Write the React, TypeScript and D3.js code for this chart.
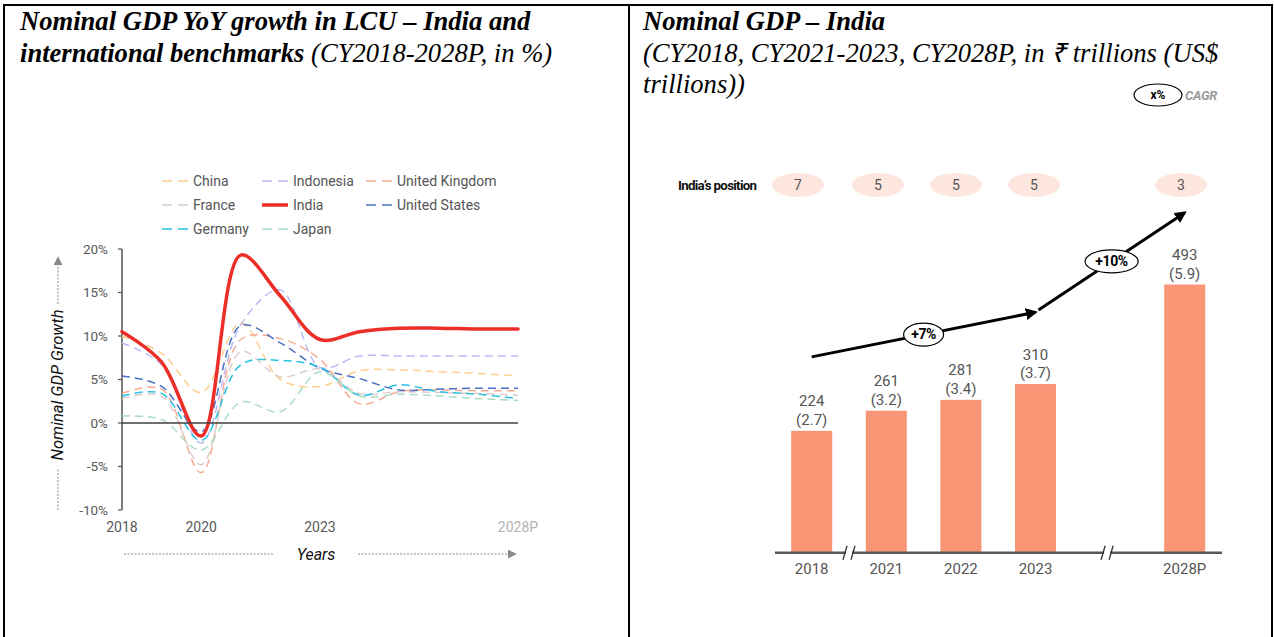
import React from "react";
import * as d3 from "d3";

// ---------- DATA ----------
const years = [2018, 2019, 2020, 2021, 2022, 2023, 2024, 2025, 2026, 2027, 2028];
const china = [10.0, 8.0, 3.5, 11.5, 5.0, 4.2, 6.0, 6.1, 5.9, 5.7, 5.4];
const indonesia = [9.2, 6.7, -2.3, 11.3, 15.3, 6.4, 7.7, 7.7, 7.7, 7.7, 7.7];
const unitedKingdom = [3.4, 3.9, -5.7, 9.6, 9.7, 7.3, 2.2, 3.6, 3.8, 3.7, 3.7];
const france = [2.8, 3.1, -4.8, 8.2, 5.3, 6.2, 3.4, 3.6, 3.5, 3.4, 3.2];
const india = [10.5, 7.0, -1.5, 19.3, 14.6, 9.6, 10.5, 10.9, 10.9, 10.8, 10.8];
const unitedStates = [5.4, 4.2, -1.0, 11.2, 9.2, 6.3, 5.1, 3.8, 3.9, 4.0, 4.0];
const germany = [3.1, 3.4, -2.0, 6.7, 7.2, 6.4, 3.2, 4.4, 3.6, 3.3, 2.8];
const japan = [0.8, 0.4, -3.1, 2.4, 1.3, 5.9, 3.1, 3.3, 3.1, 2.8, 2.6];

const yTicks = [-10, -5, 0, 5, 10, 15, 20];
const xTickLabels = ["2018", "2020", "2023", "2028P"];
const xTickYears = [2018, 2020, 2023, 2028];

const barCategories = ["2018", "2021", "2022", "2023", "2028P"];
const gdpInr = [224, 261, 281, 310, 493];
const gdpUsd = [2.7, 3.2, 3.4, 3.7, 5.9];
const indiaPosition = [7, 5, 5, 5, 3];
const cagrLabels = ["+7%", "+10%"];

// ---------- STYLE ----------
const SANS = "Roboto, 'Noto Sans', Arial, sans-serif";
const SERIF = "'Liberation Serif', 'Times New Roman', serif";
const TITLE_SIZE = 26.6;

const seriesList = [
  { name: "China", values: china, color: "#fcd08f", india: false },
  { name: "Indonesia", values: indonesia, color: "#bcbaf5", india: false },
  { name: "United Kingdom", values: unitedKingdom, color: "#f6ab92", india: false },
  { name: "France", values: france, color: "#dccdcb", india: false },
  { name: "India", values: india, color: "#ec2e28", india: true },
  { name: "United States", values: unitedStates, color: "#4a6fc2", india: false },
  { name: "Germany", values: germany, color: "#28c2e3", india: false },
  { name: "Japan", values: japan, color: "#a9dcc3", india: false },
];

export default function App() {
  // left chart scales
  const x = d3.scaleLinear().domain([2018, 2028]).range([122, 518]);
  const y = d3.scaleLinear().domain([-10, 20]).range([510, 249]);
  const line = d3
    .line<number>()
    .x((_, i) => x(years[i]))
    .y((d) => y(d))
    .curve(d3.curveCatmullRom.alpha(0.5));

  const drawOrder = seriesList.filter((s) => !s.india).concat(seriesList.filter((s) => s.india));

  // right chart scales
  const xb = d3
    .scalePoint<string>()
    .domain(["2018", "2021", "2022", "2023", "gap", "2028P"])
    .range([811.7, 1184.7]);
  const yb = d3.scaleLinear().domain([0, 500]).range([552.7, 280.7]);
  const barW = 41;
  const posX = d3
    .scaleOrdinal<string, number>()
    .domain(barCategories)
    .range([798, 878, 956, 1034, 1181]);

  // CAGR arrow segments (in data space)
  const seg1 = { x1: xb("2018")!, y1: yb(360), x2: xb("2023")!, y2: yb(442) };
  const seg2 = { x1: xb("2023")! + 3, y1: yb(446), x2: xb("2028P")!, y2: yb(625) };

  const legendCols = [162, 262, 366];
  const legendRows = [181, 205, 229];

  return (
    <svg
      width={1274}
      height={637}
      style={{ position: "absolute", left: 0, top: 0, background: "#fff" }}
      fontFamily={SANS}
    >
      <defs>
        <marker id="arrowBlack" viewBox="0 0 10 10" refX="8" refY="5" markerWidth="4" markerHeight="4" orient="auto">
          <path d="M0,0 L10,5 L0,10 z" fill="#000" />
        </marker>
        <marker id="arrowGray" viewBox="0 0 10 10" refX="8" refY="5" markerWidth="9" markerHeight="9" orient="auto" markerUnits="userSpaceOnUse">
          <path d="M0,0 L10,5 L0,10 z" fill="#888" />
        </marker>
      </defs>

      {/* table borders */}
      <g stroke="#000" strokeWidth={2}>
        <line x1={3} y1={5} x2={1273} y2={5} />
        <line x1={4} y1={5} x2={4} y2={637} />
        <line x1={629} y1={5} x2={629} y2={637} />
        <line x1={1272} y1={5} x2={1272} y2={637} />
      </g>

      {/* left title */}
      <text x={20} y={30} fontFamily={SERIF} fontSize={TITLE_SIZE} fontStyle="italic" fontWeight="bold" fill="#000">
        Nominal GDP YoY growth in LCU – India and
      </text>
      <text x={20} y={62} fontFamily={SERIF} fontSize={TITLE_SIZE} fontStyle="italic" fill="#000">
        <tspan fontWeight="bold">international benchmarks</tspan>
        <tspan> (CY2018-2028P, in %)</tspan>
      </text>

      {/* right title */}
      <text x={643} y={30} fontFamily={SERIF} fontSize={TITLE_SIZE} fontStyle="italic" fontWeight="bold" fill="#000">
        Nominal GDP – India
      </text>
      <text x={643} y={62} fontFamily={SERIF} fontSize={TITLE_SIZE} fontStyle="italic" fill="#000">
        (CY2018, CY2021-2023, CY2028P, in ₹ trillions (US$
      </text>
      <text x={643} y={93} fontFamily={SERIF} fontSize={TITLE_SIZE} fontStyle="italic" fill="#000">
        trillions))
      </text>

      {/* ---------- LEFT CHART ---------- */}
      {/* legend */}
      {seriesList.map((s, i) => {
        const cx = legendCols[i % 3];
        const cy = legendRows[Math.floor(i / 3)];
        return (
          <g key={s.name}>
            <line
              x1={cx}
              y1={cy}
              x2={cx + 26}
              y2={cy}
              stroke={s.color}
              strokeWidth={s.india ? 3.5 : 1.6}
              strokeDasharray={s.india ? undefined : "10,6"}
            />
            <text x={cx + 31} y={cy} dy="0.35em" fontSize={14} fill="#555">
              {s.name}
            </text>
          </g>
        );
      })}

      {/* y axis */}
      <line x1={x(2018)} y1={y(20)} x2={x(2018)} y2={y(-10)} stroke="#555" strokeWidth={1.5} />
      {yTicks.map((t) => (
        <g key={t}>
          <line x1={x(2018) - 4} x2={x(2018)} y1={y(t)} y2={y(t)} stroke="#555" strokeWidth={1.2} />
          <text x={108} y={y(t)} dy="0.35em" textAnchor="end" fontSize={13.5} fill="#595959">
            {`${t}%`}
          </text>
        </g>
      ))}

      {/* series */}
      {drawOrder.map((s) => (
        <path
          key={s.name}
          d={line(s.values) || ""}
          fill="none"
          stroke={s.color}
          strokeWidth={s.india ? 3.5 : 1.5}
          strokeDasharray={s.india ? undefined : "8,5"}
          strokeLinecap={s.india ? "round" : "butt"}
        />
      ))}

      {/* zero line */}
      <line x1={x(2018)} y1={y(0)} x2={x(2028)} y2={y(0)} stroke="#404040" strokeWidth={1.5} />

      {/* x labels */}
      {xTickLabels.map((lab, i) => (
        <text
          key={lab}
          x={x(xTickYears[i])}
          y={527}
          dy="0.35em"
          textAnchor="middle"
          fontSize={14}
          fill={lab === "2028P" ? "#b3b3b3" : "#595959"}
        >
          {lab}
        </text>
      ))}

      {/* axis titles */}
      <text x={316} y={554} dy="0.35em" textAnchor="middle" fontSize={16} fontStyle="italic" fill="#111">
        Years
      </text>
      <line x1={124} y1={554} x2={273} y2={554} stroke="#888" strokeWidth={1} strokeDasharray="2,1.5" />
      <line x1={358} y1={554} x2={515} y2={554} stroke="#888" strokeWidth={1} strokeDasharray="2,1.5" markerEnd="url(#arrowGray)" />

      <text
        transform="translate(57,385) rotate(-90)"
        dy="0.35em"
        textAnchor="middle"
        fontSize={16.5}
        fontStyle="italic"
        fill="#111"
      >
        Nominal GDP Growth
      </text>
      <line x1={58} y1={510} x2={58} y2={468} stroke="#888" strokeWidth={1} strokeDasharray="2,1.5" />
      <line x1={58} y1={304} x2={58} y2={258} stroke="#888" strokeWidth={1} strokeDasharray="2,1.5" markerEnd="url(#arrowGray)" />

      {/* ---------- RIGHT CHART ---------- */}
      {/* CAGR legend */}
      <ellipse cx={1158} cy={95} rx={24} ry={11} fill="#fff" stroke="#000" strokeWidth={1.2} />
      <text x={1158} y={95} dy="0.35em" textAnchor="middle" fontSize={12} fontWeight="bold" fill="#000">
        x%
      </text>
      <text x={1185} y={95} dy="0.35em" fontSize={13} fontWeight="bold" fontStyle="italic" letterSpacing={-0.3} fill="#9a9a9a">
        CAGR
      </text>

      {/* India's position row */}
      <text x={678} y={185} dy="0.35em" fontSize={13.3} fontWeight="bold" letterSpacing={-0.7} fill="#111">
        India’s position
      </text>
      {barCategories.map((c, i) => (
        <g key={c}>
          <ellipse cx={posX(c)} cy={185} rx={26} ry={12} fill="#fde6de" />
          <text x={posX(c)} y={185} dy="0.35em" textAnchor="middle" fontSize={14} fill="#555">
            {indiaPosition[i]}
          </text>
        </g>
      ))}

      {/* bars */}
      {barCategories.map((c, i) => (
        <g key={c}>
          <rect
            x={xb(c)! - barW / 2}
            y={yb(gdpInr[i])}
            width={barW}
            height={yb(0) - yb(gdpInr[i])}
            fill="#f79574"
          />
          <text x={xb(c)} y={yb(gdpInr[i]) - 24.5} textAnchor="middle" fontSize={15} fill="#555">
            {gdpInr[i]}
          </text>
          <text x={xb(c)} y={yb(gdpInr[i]) - 6} textAnchor="middle" fontSize={15} fill="#555">
            {`(${gdpUsd[i].toFixed(1)})`}
          </text>
          <text x={xb(c)} y={569} dy="0.35em" textAnchor="middle" fontSize={15} fill="#555">
            {c}
          </text>
        </g>
      ))}

      {/* baseline with breaks */}
      <line x1={775} y1={yb(0)} x2={1222} y2={yb(0)} stroke="#595959" strokeWidth={2.5} />
      {[(xb("2018")! + xb("2021")!) / 2, xb("gap")! - 3].map((bx, i) => (
        <g key={i}>
          <rect x={bx - 3} y={yb(0) - 3} width={6} height={6} fill="#fff" />
          <line x1={bx - 6} y1={yb(0) + 7} x2={bx - 2} y2={yb(0) - 7} stroke="#333" strokeWidth={1.3} />
          <line x1={bx + 2} y1={yb(0) + 7} x2={bx + 6} y2={yb(0) - 7} stroke="#333" strokeWidth={1.3} />
        </g>
      ))}

      {/* CAGR arrows */}
      {[seg1, seg2].map((s, i) => (
        <g key={i}>
          <line
            x1={s.x1}
            y1={s.y1}
            x2={s.x2}
            y2={s.y2}
            stroke="#000"
            strokeWidth={3}
            markerEnd="url(#arrowBlack)"
          />
          <ellipse
            cx={(s.x1 + s.x2) / 2}
            cy={(s.y1 + s.y2) / 2}
            rx={i === 0 ? 20 : 26.5}
            ry={11.5}
            fill="#fff"
            stroke="#000"
            strokeWidth={1.2}
          />
          <text
            x={(s.x1 + s.x2) / 2}
            y={(s.y1 + s.y2) / 2}
            dy="0.35em"
            textAnchor="middle"
            fontSize={14}
            fontWeight="bold"
            letterSpacing={-0.4}
            fill="#000"
          >
            {cagrLabels[i]}
          </text>
        </g>
      ))}
    </svg>
  );
}
